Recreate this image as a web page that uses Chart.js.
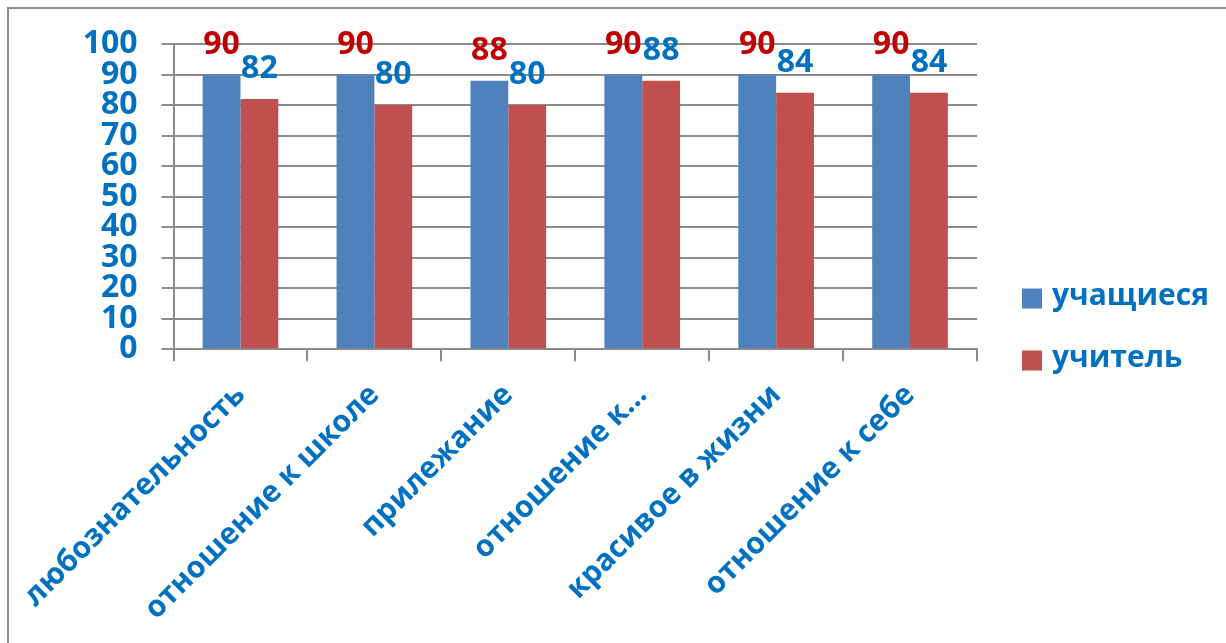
<!DOCTYPE html>
<html><head><meta charset="utf-8">
<script src="https://cdn.jsdelivr.net/npm/chart.js@4.4.1/dist/chart.umd.min.js"></script>
<style>html,body{margin:0;padding:0;background:#fff}canvas{display:block}</style>
</head><body>
<canvas id="c" width="1226" height="643" style="width:1226px;height:643px"></canvas>
<script>
const categories = ['любознательность', 'отношение к школе', 'прилежание', 'отношение к...', 'красивое в жизни', 'отношение к себе'];
const studentValues = [90, 90, 88, 90, 90, 90];
const teacherValues = [82, 80, 80, 88, 84, 84];
const seriesNames = ['учащиеся', 'учитель'];
const yMin = 0, yMax = 100, yStep = 10;

const FONT = '"Open Sans", "Noto Sans", sans-serif';
const BLUE_TEXT = '#0070c0';
const GRID = '#8c8c8c';

const framePlugin = {
  id: 'frame',
  beforeDraw(chart) {
    const ctx = chart.ctx;
    ctx.save();
    ctx.fillStyle = '#fff';
    ctx.fillRect(0, 0, chart.width, chart.height);
    ctx.strokeStyle = GRID;
    ctx.lineWidth = 2;
    ctx.strokeRect(8, 8, chart.width + 40, chart.height + 40);
    ctx.restore();
  }
};

const valueLabels = {
  id: 'valueLabels',
  afterDatasetsDraw(chart) {
    const ctx = chart.ctx;
    ctx.save();
    ctx.font = 'bold 32px ' + FONT;
    ctx.textAlign = 'center';
    ctx.textBaseline = 'alphabetic';
    chart.data.datasets.forEach((ds, i) => {
      const meta = chart.getDatasetMeta(i);
      ctx.fillStyle = ds.labelColor;
      meta.data.forEach((bar, j) => {
        ctx.fillText(String(ds.data[j]), bar.x, bar.y - 21);
      });
    });
    ctx.restore();
  }
};

const sideLegend = {
  id: 'sideLegend',
  afterDraw(chart) {
    const ctx = chart.ctx;
    const ca = chart.chartArea;
    ctx.save();
    ctx.font = 'bold 30px ' + FONT;
    ctx.textBaseline = 'middle';
    ctx.textAlign = 'left';
    const x = ca.right + 45;
    const step = 62;
    const n = chart.data.datasets.length;
    const cy0 = chart.height / 2 + 8 - (n - 1) * step / 2;
    chart.data.datasets.forEach((ds, i) => {
      const cy = cy0 + i * step;
      ctx.fillStyle = ds.backgroundColor;
      ctx.fillRect(x, cy - 10, 20, 20);
      ctx.fillStyle = BLUE_TEXT;
      ctx.fillText(ds.label, x + 30, cy - 2);
    });
    ctx.restore();
  }
};

new Chart(document.getElementById('c'), {
  type: 'bar',
  data: {
    labels: categories,
    datasets: [
      { label: seriesNames[0], data: studentValues, backgroundColor: '#4f81bd', labelColor: '#c00000' },
      { label: seriesNames[1], data: teacherValues, backgroundColor: '#c0504d', labelColor: '#0070c0' }
    ]
  },
  options: {
    responsive: false,
    animation: false,
    events: [],
    datasets: { bar: { categoryPercentage: 0.565, barPercentage: 1.0 } },
    layout: { padding: { left: 46, right: 249, top: 44, bottom: 0 } },
    plugins: { legend: { display: false }, tooltip: { enabled: false } },
    scales: {
      x: {
        grid: { display: true, drawOnChartArea: false, offset: true, color: GRID, lineWidth: 2, tickLength: 12 },
        border: { display: true, color: GRID, width: 2 },
        ticks: { color: BLUE_TEXT, font: { family: FONT, size: 30, weight: 'bold' }, minRotation: 45, maxRotation: 45, autoSkip: false, padding: 16 }
      },
      y: {
        min: yMin, max: yMax,
        grid: { color: GRID, lineWidth: 2, tickLength: 12 },
        border: { display: true, color: GRID, width: 2 },
        ticks: { stepSize: yStep, autoSkip: false, color: BLUE_TEXT, padding: 24, font: { family: FONT, size: 32, weight: 'bold', lineHeight: 0.9 } }
      }
    }
  },
  plugins: [framePlugin, valueLabels, sideLegend]
});
</script>
</body></html>
